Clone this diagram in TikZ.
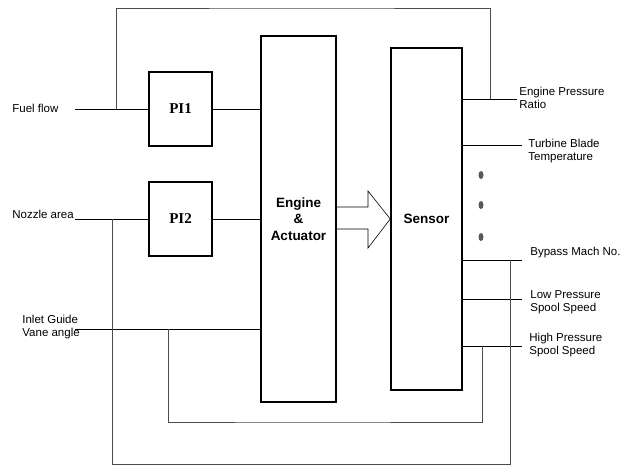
\documentclass[tikz,border=0pt]{standalone}
\usepackage{fontspec}
\setmainfont{Liberation Sans}
\newfontfamily\serifbold{Liberation Serif}
\usetikzlibrary{positioning,calc}

\begin{document}
\begin{tikzpicture}[x=1pt, y=-1pt, line width=0.8pt,
  blk/.style={draw, line width=1.5pt, inner sep=0pt},
  pibox/.style={blk, minimum width=63pt, minimum height=74pt,
    font=\serifbold\bfseries\fontsize{15}{17}\selectfont},
  big/.style={blk, align=center, font=\bfseries\fontsize{13.5}{16.5}\selectfont},
  lbl/.style={anchor=west, inner sep=0pt, align=left,
    font=\fontsize{11.5}{13.5}\selectfont},
  fb/.style={draw=black!70}]
\useasboundingbox (0,0) rectangle (629,466);

% controllers, plant and sensor
\node[pibox] (pi1) at (180.5,109) {PI1};
\node[pibox] (pi2) at (180.5,219) {PI2};
\node[big, minimum width=75pt, minimum height=366pt] (eng) at (298.5,219) {Engine\\\&\\Actuator};
\node[big, minimum width=71pt, minimum height=342pt] (sen) at (426.5,219) {Sensor};

% inputs
\node[lbl] (fuel) at (12,108) {Fuel flow};
\node[lbl] (noz) at (12,214) {Nozzle area};
\node[lbl] (igv) at (22,327) {Inlet Guide\\Vane angle};
\coordinate (fuelin) at (75,109);
\coordinate (nozin) at (75,219);
\coordinate (igvin) at (75,329);
\draw (fuelin) -- (pi1.west);
\draw (nozin) -- (pi2.west);
\draw (pi1.east) -- (eng.west |- pi1.east);
\draw (pi2.east) -- (eng.west |- pi2.east);
\draw (igvin) -- (eng.west |- igvin);

% block arrow engine -> sensor
\draw[line width=0.6pt] (eng.east |- 0,207) -- (368,207) -- (368,191) -- (sen.west)
  -- (368,248) -- (368,229) -- (eng.east |- 0,229);

% outputs
\coordinate (epr) at (517,99);
\coordinate (tbt) at (522,145);
\coordinate (byp) at (522,260);
\coordinate (lps) at (522,299);
\coordinate (hps) at (522,346);
\draw (sen.east |- epr) -- (epr);
\draw (sen.east |- tbt) -- (tbt);
\draw (sen.east |- byp) -- (byp);
\draw (sen.east |- lps) -- (lps);
\draw (sen.east |- hps) -- (hps);
\node[lbl] (eprl) at (519,98) {Engine Pressure\\Ratio};
\node[lbl] (tbtl) at (528,151) {Turbine Blade\\Temperature};
\node[lbl] (bypl) at (530,253) {Bypass Mach No.};
\node[lbl] (lpsl) at (530,302) {Low Pressure\\Spool Speed};
\node[lbl] (hpsl) at (529,345) {High Pressure\\Spool Speed};

% more outputs
\foreach \y in {175,205,237}
  \fill[black!65] (481,\y) ellipse (2.5 and 4);

% feedback loops
\coordinate (j1) at (116,109);
\coordinate (j2) at (490,99);
\coordinate (ctop) at (300,8);
\draw[fb] (j1) |- (ctop) -| (j2);
\coordinate (j3) at (168,329);
\coordinate (j4) at (482,346);
\coordinate (cmid) at (300,422);
\draw[fb] (j3) |- (cmid) -| (j4);
\coordinate (j5) at (112,219);
\coordinate (j6) at (510,260);
\coordinate (cbot) at (300,464.5);
\draw[fb] (j5) |- (cbot) -| (j6);
\end{tikzpicture}
\end{document}
